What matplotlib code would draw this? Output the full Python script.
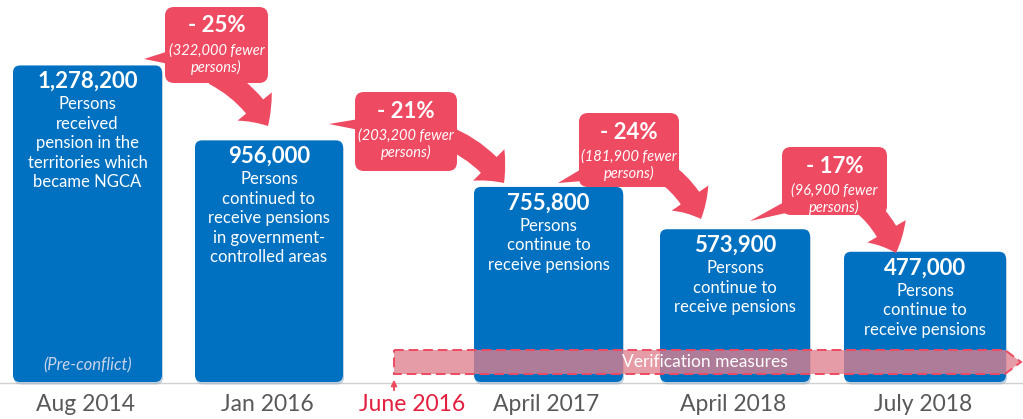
import matplotlib
matplotlib.use("Agg")
import matplotlib.pyplot as plt
from matplotlib.patches import FancyBboxPatch, FancyArrowPatch, Polygon

plt.rcParams['font.family'] = ['Lato', 'DejaVu Sans']

# --- data ---
periods = ['Aug 2014', 'Jan 2016', 'April 2017', 'April 2018', 'July 2018']
persons = [1278200, 956000, 755800, 573900, 477000]
descriptions = [
    ['Persons', 'received', 'pension in the', 'territories which', 'became NGCA'],
    ['Persons', 'continued to', 'receive pensions', 'in government-', 'controlled areas'],
    ['Persons', 'continue to', 'receive pensions'],
    ['Persons', 'continue to', 'receive pensions'],
    ['Persons', 'continue to', 'receive pensions'],
]
drop_pct = [25, 21, 24, 17]
drop_persons = [322000, 203200, 181900, 96900]
first_note = '(Pre-conflict)'
marker_label = 'June 2016'
band_label = 'Verification measures'

# --- colours ---
BLUE = '#0070C0'
RED = '#EE4A62'
LABEL_GREY = '#595959'
JUNE_RED = '#E3203F'

# --- layout (pixels) ---
W, H = 1023, 419
BASE_PX = 382          # pixel row of the bar floor
FLOOR = -83000         # data value at the floor
PER_PX = 4300          # persons per pixel
BAR_X = [87.5, 269, 548.5, 735, 925]
BAR_W = [149, 148, 149, 150, 162]
BOXES = [(165, 7, 103, 76), (355, 92, 102, 79), (579, 113, 100, 74), (782, 147, 105, 68)]
TAILS = [((144, 59), 51, 64), ((329, 124), 119, 130), ((558, 183), 168, 181), ((750, 221), 201, 213)]
ARROWS = [((214, 74), (268, 126)), ((444, 136), (504, 183)),
          ((664, 172), (701, 219)), ((862, 203), (896, 253))]
PX = 0.72  # points per pixel at dpi 100

fig = plt.figure(figsize=(W / 100, H / 100), dpi=100)

# bars axis, data scale
ax = fig.add_axes([0, 0, 1, 1])
ax.set_xlim(0, W)
ax.set_ylim(FLOOR - (H - BASE_PX) * PER_PX, FLOOR + BASE_PX * PER_PX)
ax.axis('off')

# overlay axis in pixel units (y down)
ov = fig.add_axes([0, 0, 1, 1], zorder=3)
ov.set_xlim(0, W)
ov.set_ylim(H, 0)
ov.axis('off')
ov.patch.set_alpha(0)

# baseline
ax.axhline(FLOOR - 1 * PER_PX, color='#D0D0D0', lw=1, zorder=0)

bars = ax.bar(BAR_X, [v - FLOOR for v in persons], bottom=FLOOR, width=BAR_W)
for rect in bars:
    x0, y0 = rect.get_x(), rect.get_y()
    w, h = rect.get_width(), rect.get_height()
    rect.set_visible(False)
    shadow = FancyBboxPatch((x0 + 1, y0 - 2.5 * PER_PX), w, h,
                            boxstyle='round,pad=0,rounding_size=7',
                            mutation_aspect=PER_PX, fc='#9DB3C8', ec='none',
                            alpha=0.6, zorder=1)
    ax.add_patch(shadow)
    box = FancyBboxPatch((x0, y0), w, h, boxstyle='round,pad=0,rounding_size=7',
                         mutation_aspect=PER_PX, fc=BLUE, ec='none', zorder=2)
    ax.add_patch(box)

# text inside bars
for x, v, lines in zip(BAR_X, persons, descriptions):
    ax.annotate(f'{v:,}', xy=(x, v), xytext=(0, -16 * PX), textcoords='offset points',
                ha='center', va='center', color='white', fontsize=16,
                fontweight='bold', zorder=4)
    for i, line in enumerate(lines):
        ax.annotate(line, xy=(x, v), xytext=(0, -(39 + 19.5 * i) * PX),
                    textcoords='offset points', ha='center', va='center',
                    color='white', fontsize=12, zorder=4)
ax.annotate(first_note, xy=(BAR_X[0], FLOOR), xytext=(0, 17 * PX),
            textcoords='offset points', ha='center', va='center',
            color='#C9D3EA', fontsize=12, style='italic', zorder=4)

# x labels
for x, lab in zip(BAR_X, periods):
    ov.text(x - 2, 404, lab, ha='center', va='center', color=LABEL_GREY, fontsize=16.5)
ov.text(412, 404, marker_label, ha='center', va='center', color=JUNE_RED, fontsize=16.5)
ov.annotate('', xy=(394, 377), xytext=(394, 393),
            arrowprops=dict(arrowstyle='-|>', color=RED, lw=1.4, mutation_scale=8))

# verification band
band = Polygon([(394, 350), (1005, 350), (1021, 362), (1005, 374), (394, 374)],
               closed=True, fc=(0.88, 0.50, 0.56, 0.78), ec=RED, lw=1.4,
               ls=(0, (5, 2.5)), zorder=2)
ov.add_patch(band)
ov.text(705, 362, band_label, ha='center', va='center', color='white', fontsize=12.5, zorder=3)

# callouts
for (bx, by, bw, bh), (tip, t0, t1), (start, end), pct, n in zip(
        BOXES, TAILS, ARROWS, drop_pct, drop_persons):
    ov.add_patch(Polygon([tip, (bx + 4, t0), (bx + 4, t1)], closed=True,
                         fc=RED, ec='none', zorder=4))
    ov.add_patch(FancyArrowPatch(start, end, arrowstyle='simple,head_width=32,head_length=17,tail_width=16',
                                 connectionstyle='arc3,rad=-0.15', mutation_scale=1,
                                 fc=RED, ec='none', zorder=4, shrinkA=0, shrinkB=0))
    ov.add_patch(FancyBboxPatch((bx, by), bw, bh, boxstyle='round,pad=0,rounding_size=9',
                                fc=RED, ec='none', zorder=5))
    cx = bx + bw / 2
    ov.text(cx, by + 19, f'- {pct}%', ha='center', va='center', color='white',
            fontsize=16, fontweight='bold', zorder=6)
    ov.text(cx, by + 44, f'({n:,} fewer', ha='center', va='center', color='white',
            fontsize=10.5, style='italic', zorder=6)
    ov.text(cx, by + 60, 'persons)', ha='center', va='center', color='white',
            fontsize=10.5, style='italic', zorder=6)

fig.savefig('out.png', dpi=100, facecolor='white')
